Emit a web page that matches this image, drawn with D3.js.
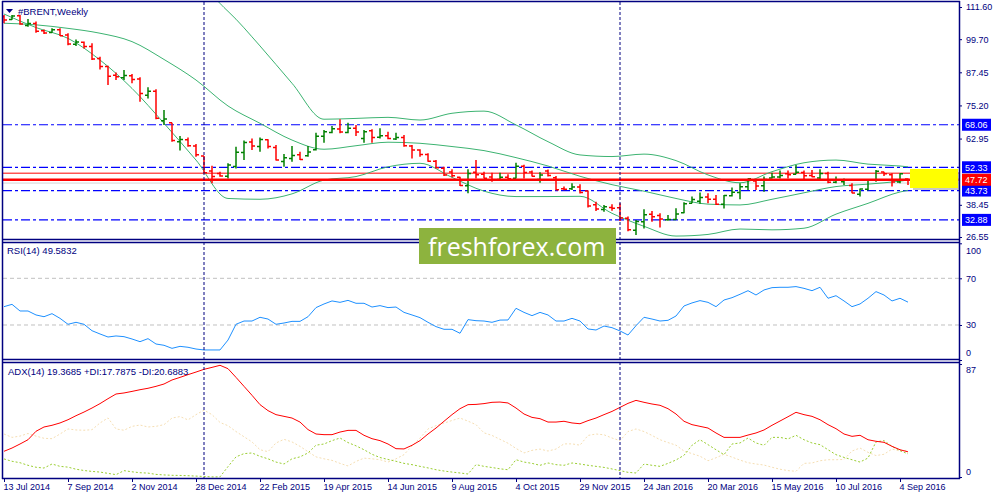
<!DOCTYPE html>
<html>
<head>
<meta charset="utf-8">
<script src="https://cdnjs.cloudflare.com/ajax/libs/d3/7.8.5/d3.min.js"></script>
<style>
body { margin: 0; background: #fff; }
svg { display: block; font-family: "Liberation Sans", Arial, sans-serif; }
</style>
</head>
<body>
<svg width="1000" height="500"></svg>
<script>

// weekly bars, 13 Jul 2014 .. 11 Sep 2016
var opens = [108.0,107.0,108.4,104.8,105.5,102.8,102.2,103.2,101.2,97.8,
  98.6,97.0,92.6,89.6,86.4,85.4,86.2,85.0,79.0,80.4,
  69.5,68.8,61.8,62.5,60.2,56.5,51.0,50.0,49.0,52.6,
  57.8,61.7,60.0,62.5,59.6,54.5,55.6,57.0,56.6,58.8,
  63.8,65.2,66.5,65.2,66.8,63.0,65.8,63.4,64.0,62.8,
  63.3,60.2,58.7,57.1,54.6,52.0,50.6,48.6,45.5,50.5,
  49.8,48.7,47.8,48.6,48.3,52.7,50.6,47.8,51.0,48.5,
  44.4,44.4,45.0,43.6,38.5,36.7,37.5,37.4,33.5,29.0,
  32.2,35.0,34.5,32.9,33.0,35.5,39.0,39.8,41.3,40.5,
  38.7,41.8,43.0,45.1,47.3,45.5,48.4,48.7,49.9,49.8,
  50.4,49.3,48.4,50.0,46.8,47.0,45.6,42.4,44.2,47.5,
  50.6,49.6,46.9,48.0];
var highs = [108.6,108.6,108.6,107.2,106.2,103.3,103.7,103.7,101.9,99.6,
  98.8,98.2,93.2,89.9,87.4,88.3,86.8,85.6,81.9,81.2,
  73.5,68.8,63.9,63.3,60.9,56.5,52.9,50.7,53.8,59.9,
  62.2,63.0,63.3,62.7,60.6,57.2,60.2,58.1,60.2,65.1,
  66.1,67.6,70.1,68.8,68.0,66.1,66.4,66.8,65.5,65.1,
  64.3,60.6,59.0,57.5,55.0,52.5,51.6,48.8,51.6,55.0,
  50.7,50.3,50.3,49.8,54.0,53.3,51.1,50.5,51.5,49.1,
  45.2,46.4,46.1,43.7,39.6,38.4,38.7,39.0,34.1,32.8,
  36.8,36.2,35.3,34.7,37.2,39.4,41.5,43.0,42.7,42.1,
  42.1,44.9,46.4,48.2,47.6,48.9,50.3,51.1,51.1,53.2,
  51.1,51.3,51.6,50.7,48.9,48.2,46.4,44.5,47.6,51.3,
  50.7,50.1,50.1,48.2];
var lows = [105.6,106.9,105.0,104.3,102.1,101.6,102.1,100.9,97.5,97.2,
  96.3,92.0,88.5,82.8,84.6,84.6,83.4,76.6,77.8,70.1,
  68.0,61.8,58.5,59.9,56.2,50.1,46.4,48.8,48.2,51.9,
  55.0,58.7,58.1,59.3,54.8,52.5,54.4,55.0,56.2,58.5,
  61.4,64.9,64.9,64.9,63.9,61.4,61.4,63.0,62.7,62.4,
  59.9,55.6,56.2,54.4,51.9,49.1,48.6,45.4,42.7,48.2,
  48.2,47.0,47.6,47.6,48.2,48.2,48.9,46.6,48.9,43.8,
  43.8,43.9,42.6,37.5,36.2,35.9,36.3,32.5,28.7,27.3,
  29.7,32.2,30.1,32.6,32.8,35.3,39.0,38.8,39.0,38.4,
  37.1,41.5,40.5,43.9,43.9,43.3,48.2,48.2,48.2,49.8,
  47.4,48.6,47.4,46.4,46.4,45.8,42.7,41.5,43.7,47.0,
  49.1,45.2,46.4,45.8];
var closes = [106.8,108.3,105.3,105.5,102.6,102.0,103.2,101.0,97.9,98.7,
  97.0,92.4,89.6,86.0,85.8,86.3,84.8,79.6,80.4,70.5,
  70.2,62.2,62.6,60.3,57.0,50.3,48.9,49.1,53.2,57.9,
  61.5,60.2,62.6,60.0,55.0,55.9,56.7,55.2,58.0,63.8,
  65.5,66.6,65.4,66.8,65.4,65.5,63.3,64.0,63.0,63.3,
  60.3,58.7,57.1,54.6,52.2,49.5,49.2,45.6,50.0,49.6,
  48.3,47.6,48.6,48.1,52.7,50.4,49.0,49.5,49.3,44.0,
  44.2,45.0,43.0,38.0,36.9,37.7,37.2,33.6,29.2,32.3,
  34.8,34.0,33.2,33.0,35.1,38.8,40.4,41.2,40.5,38.7,
  41.9,43.1,45.1,48.1,45.4,47.8,48.7,49.3,49.6,50.5,
  49.2,48.8,50.0,46.8,47.6,47.7,42.8,44.3,47.5,50.9,
  49.9,46.9,49.9,47.72];

// band lines every 4th bar
var bandIdx = [0,4,8,12,16,20,24,28,32,36,40,44,48,52,56,60,64,68,72,76,80,84,88,92,96,100,104,108,112,113];
var bandUpper = [114,115,116,117,118,119,119,110,97.2,83.4,70.1,70.4,70.8,69.8,72.3,73.1,68.0,61.8,56.9,56.3,57.2,54.8,49.5,46.6,50.7,54.0,55.0,53.5,52.8,52.5];
var bandMid = [105.6,105.0,103.7,101.9,98.8,92.2,84.6,75.0,68.6,62.4,59.0,60.3,61.6,61.2,60.0,58.5,55.9,52.8,49.0,45.9,43.5,40.8,38.7,38.4,40.5,42.9,45.2,46.1,47.2,47.6];
var bandLower = [109.0,104.0,100.0,92.0,81.5,68.6,55.0,40.8,40.5,42.5,47.6,48.9,52.5,53.8,48.6,43.5,41.5,41.5,41.6,35.3,30.5,26.9,27.5,29.5,29.2,29.8,35.0,39.0,43.2,43.8];

var rsiValues = [45.7,47.7,42.0,42.0,38.6,37.1,39.7,35.7,30.6,32.3,
  30.6,25.1,22.3,19.7,20.6,20.0,18.0,15.7,18.3,13.7,
  12.6,10.0,11.7,10.9,9.4,8.6,8.6,8.6,17.1,30.6,
  33.4,33.4,36.6,35.1,30.6,31.7,33.1,33.1,37.1,44.9,
  48.0,50.6,49.4,51.1,48.6,48.6,45.4,46.6,44.9,45.4,
  40.8,38.6,36.3,32.3,28.6,26.3,26.3,22.9,34.6,33.7,
  33.4,32.3,34.2,34.3,44.3,40.8,38.0,40.8,38.6,33.4,
  33.4,35.7,33.4,26.6,25.7,29.1,27.7,24.9,21.4,29.4,
  36.6,35.1,33.4,34.0,37.7,46.3,48.9,50.9,49.4,45.7,
  51.4,53.4,56.3,59.4,55.7,60.0,62.0,62.3,62.3,62.9,
  61.4,59.4,62.3,52.9,55.1,50.6,45.7,48.0,52.9,58.6,
  55.7,50.6,52.9,49.58];

var adxValues = [19.8,22.3,25.4,28.7,35.2,38.5,39.8,41.6,44.1,47.2,
  50.0,53.1,56.5,60.3,63.9,64.7,65.9,67.2,68.3,69.8,
  71.6,74.7,76.7,78.8,80.8,82.9,84.4,86.0,83.4,76.7,
  69.8,62.9,55.7,51.1,48.0,46.7,45.4,42.3,36.5,33.1,
  32.6,32.6,34.6,35.9,35.9,32.1,29.5,28.0,25.4,21.8,
  21.6,24.4,28.0,33.1,37.7,42.9,48.0,52.6,55.7,55.9,
  56.5,57.5,57.7,57.0,53.1,48.5,45.9,44.9,42.3,42.3,
  42.9,41.6,41.0,43.4,45.4,48.0,50.5,53.6,56.7,59.0,
  57.5,56.2,55.2,52.6,48.5,42.9,40.3,39.0,37.7,33.9,
  30.5,30.5,30.5,32.3,33.9,36.2,39.8,43.1,46.4,49.8,
  48.0,46.7,44.1,40.3,37.2,33.1,31.3,32.1,28.7,27.5,
  26.7,23.6,21.0,19.37];
var plusDI = [13.9,12.1,11.0,9.0,7.5,6.9,10.0,8.2,7.6,6.0,
  5.0,4.3,3.8,2.8,1.8,4.9,4.0,3.3,3.0,2.0,
  1.6,1.3,1.2,1.0,0.7,0.4,0.1,0.1,8.0,15.5,
  18.0,18.5,15.9,14.0,11.5,10.0,14.0,15.5,18.5,24.5,
  25.4,28.0,30.0,26.5,24.0,21.0,17.5,15.0,13.5,12.1,
  10.5,9.5,8.2,7.0,5.6,4.6,3.8,3.1,2.3,9.5,
  8.2,7.3,6.3,5.6,13.3,11.5,10.5,9.0,10.8,9.5,
  9.0,10.8,10.0,9.0,8.2,7.4,6.2,4.9,3.6,3.1,
  10.0,9.0,8.2,10.5,13.1,16.7,24.4,28.7,24.9,21.0,
  17.2,25.4,26.2,30.0,26.2,24.4,30.5,30.5,29.3,32.1,
  28.7,26.2,24.9,21.0,17.2,15.1,13.3,11.5,14.6,27.0,
  28.0,23.6,20.3,17.79];
var minusDI = [33.1,30.5,31.5,33.5,31.5,29.8,29.5,33.1,37.0,36.2,
  36.0,36.4,41.6,45.5,37.0,36.0,39.0,40.0,38.5,39.0,
  40.3,45.4,46.5,44.0,48.0,51.5,48.0,42.0,39.5,35.0,
  31.0,27.0,21.0,19.5,26.2,29.0,27.0,23.6,19.5,15.5,
  14.0,12.8,10.5,8.5,12.0,14.5,14.0,13.3,11.5,14.0,
  17.2,24.0,30.0,37.0,39.5,41.5,43.5,45.4,43.0,40.3,
  34.0,32.0,29.0,26.0,22.0,18.5,20.5,21.5,20.0,21.5,
  25.5,25.5,24.5,32.0,33.1,32.5,30.0,28.0,35.0,37.0,
  35.0,32.0,28.7,26.5,24.5,20.0,18.0,16.0,12.5,14.8,
  17.5,15.3,13.0,11.0,10.0,9.2,7.5,6.0,4.9,4.4,
  10.5,10.8,12.5,13.3,13.3,13.5,20.0,22.3,19.0,16.5,
  17.5,21.5,20.0,20.69];

var dateTicks = [0,8,16,24,32,40,48,56,64,72,80,88,96,104,112];
var dateLabels = ["13 Jul 2014","7 Sep 2014","2 Nov 2014","28 Dec 2014","22 Feb 2015","19 Apr 2015","14 Jun 2015",
  "9 Aug 2015","4 Oct 2015","29 Nov 2015","24 Jan 2016","20 Mar 2016","15 May 2016","10 Jul 2016","4 Sep 2016"];
var priceTicks = [111.60, 99.70, 87.45, 75.20, 62.95, 38.45, 26.55];
var levelPrices = [68.06, 52.33, 43.73, 32.88];
var bidPrice = 47.72;
var redLinePrice = 50.15;
var askPrice = 46.5;
var yearBreaks = [25, 77];

var navy = "#000080";
var svg = d3.select("svg");

xScale = d3.scaleLinear().domain([0, 112]).range([4, 900]);
priceScale = d3.scaleLinear().domain([26.55, 111.60]).range([237, 7]);
rsiScale = d3.scaleLinear().domain([0, 100]).range([360, 243.3]);
adxScale = d3.scaleLinear().domain([0, 87]).range([477, 364]);

var defs = svg.append("defs");
function clip(id, y0, y1) {
    defs.append("clipPath").attr("id", id).append("rect")
        .attr("x", 3).attr("y", y0).attr("width", 956).attr("height", y1 - y0);
}
clip("clipPrice", 2, 239.5);
clip("clipRsi", 243, 359.5);
clip("clipAdx", 362.5, 478);

// ---------- price panel
var pg = svg.append("g").attr("clip-path", "url(#clipPrice)");

pg.selectAll(".level").data(levelPrices).enter().append("line")
    .attr("x1", 3).attr("x2", 959)
    .attr("y1", d => priceScale(d)).attr("y2", d => priceScale(d))
    .attr("stroke", "#0000ff").attr("stroke-width", 1.2).attr("stroke-dasharray", "9,3,3,3");

pg.append("line").attr("x1", 3).attr("x2", 959)
    .attr("y1", priceScale(redLinePrice)).attr("y2", priceScale(redLinePrice))
    .attr("stroke", "#ff0000").attr("stroke-width", 1);
pg.append("line").attr("x1", 3).attr("x2", 959)
    .attr("y1", priceScale(askPrice)).attr("y2", priceScale(askPrice))
    .attr("stroke", "#d4d4d4").attr("stroke-width", 1);

var bandLine = function (vals) {
    return d3.line().curve(d3.curveMonotoneX)
        .x((d, i) => xScale(bandIdx[i])).y(d => priceScale(d))(vals);
};
[bandUpper, bandMid, bandLower].forEach(function (vals) {
    pg.append("path").attr("d", bandLine(vals)).attr("fill", "none")
        .attr("stroke", "#3cb371").attr("stroke-width", 1);
});

pg.selectAll(".bar").data(closes).enter().append("path")
    .attr("d", function (c, i) {
        var x = xScale(i);
        return "M" + x + "," + priceScale(highs[i]) + "V" + priceScale(lows[i]) +
            "M" + (x - 3) + "," + priceScale(opens[i]) + "H" + x +
            "M" + x + "," + priceScale(c) + "H" + (x + 3);
    })
    .attr("fill", "none").attr("stroke-width", 1.5)
    .attr("stroke", (c, i) => c >= opens[i] ? "#008000" : "#ff0000");

// yellow box at the last price
svg.append("rect").attr("x", 913).attr("y", 172).attr("width", 47).attr("height", 18).attr("fill", "#b0b0b0").attr("opacity", 0.7);
svg.append("rect").attr("x", 910).attr("y", 169).attr("width", 48).attr("height", 19).attr("fill", "#ffff00");

pg.append("line").attr("x1", 3).attr("x2", 959)
    .attr("y1", priceScale(bidPrice)).attr("y2", priceScale(bidPrice))
    .attr("stroke", "#ff0000").attr("stroke-width", 2.5);

// ---------- RSI panel
var rg = svg.append("g").attr("clip-path", "url(#clipRsi)");
[70, 30].forEach(function (v) {
    rg.append("line").attr("x1", 3).attr("x2", 959).attr("y1", rsiScale(v)).attr("y2", rsiScale(v))
        .attr("stroke", "#c0c0c0").attr("stroke-dasharray", "4,3");
});
rg.append("path")
    .attr("d", d3.line().x((d, i) => xScale(i)).y(d => rsiScale(d))(rsiValues))
    .attr("fill", "none").attr("stroke", "#1e90ff").attr("stroke-width", 1);

// ---------- ADX panel
var ag = svg.append("g").attr("clip-path", "url(#clipAdx)");
var adxLine = d3.line().x((d, i) => xScale(i)).y(d => adxScale(d));
ag.append("path").attr("d", adxLine(minusDI)).attr("fill", "none")
    .attr("stroke", "#f5deb3").attr("stroke-width", 1).attr("stroke-dasharray", "2,2");
ag.append("path").attr("d", adxLine(plusDI)).attr("fill", "none")
    .attr("stroke", "#9acd32").attr("stroke-width", 1).attr("stroke-dasharray", "2,2");
ag.append("path").attr("d", adxLine(adxValues)).attr("fill", "none")
    .attr("stroke", "#ff0000").attr("stroke-width", 1);

// year separators
svg.selectAll(".sep").data(yearBreaks).enter().append("line")
    .attr("x1", d => xScale(d)).attr("x2", d => xScale(d))
    .attr("y1", 2).attr("y2", 478)
    .attr("stroke", navy).attr("stroke-width", 1).attr("stroke-dasharray", "3,2");

// ---------- frames
var frame = svg.append("g").attr("stroke", navy).attr("stroke-width", 1.5).attr("fill", "none");
frame.append("line").attr("x1", 2.5).attr("x2", 2.5).attr("y1", 1).attr("y2", 479);
frame.append("line").attr("x1", 959.5).attr("x2", 959.5).attr("y1", 1).attr("y2", 479);
[1.5, 239.5, 242.5, 359.5, 362.5, 478.5].forEach(function (y) {
    frame.append("line").attr("x1", 2).attr("x2", 960).attr("y1", y).attr("y2", y);
});

// ---------- axes
function styleAxis(g) {
    g.select(".domain").remove();
    g.selectAll("line").attr("stroke", navy);
    g.selectAll("text").attr("fill", navy).style("font-size", "9px")
        .style("font-family", "'Liberation Sans', Arial, sans-serif");
}

priceAxis = d3.axisRight(priceScale).tickValues(priceTicks).tickSize(3).tickPadding(4).tickFormat(d3.format(".2f"));
svg.append("g").attr("transform", "translate(959,0)").call(priceAxis).call(styleAxis);

rsiAxis = d3.axisRight(rsiScale).tickValues([100, 70, 30, 0]).tickSize(3).tickPadding(4);
svg.append("g").attr("transform", "translate(959,0)").call(rsiAxis).call(styleAxis)
    .selectAll("text").attr("y", d => d == 100 ? 7 : (d == 0 ? -7 : 0));

adxAxis = d3.axisRight(adxScale).tickValues([87, 0]).tickSize(3).tickPadding(4);
svg.append("g").attr("transform", "translate(959,0)").call(adxAxis).call(styleAxis)
    .selectAll("text").attr("y", d => d == 87 ? 6 : -5);

dateAxis = d3.axisBottom(xScale).tickValues(dateTicks).tickSize(4)
    .tickFormat((d, i) => dateLabels[i]);
svg.append("g").attr("transform", "translate(0,478)").call(dateAxis).call(styleAxis)
    .selectAll("text").attr("text-anchor", "start").attr("x", -1).attr("y", 6);

// highlighted price labels
var tags = levelPrices.map(p => ({ p: p, c: "#0000ff" })).concat([{ p: bidPrice, c: "#ff0000" }]);
var tagG = svg.selectAll(".tag").data(tags).enter().append("g")
    .attr("transform", d => "translate(962," + priceScale(d.p) + ")");
tagG.append("rect").attr("x", 0).attr("y", -6).attr("width", 29).attr("height", 12).attr("fill", d => d.c);
tagG.append("text").attr("x", 3).attr("y", 3.5).attr("fill", "#fff")
    .style("font-size", "9px").text(d => d3.format(".2f")(d.p));

// ---------- titles
svg.append("path").attr("d", "M6,9H13L9.5,13Z").attr("fill", navy);
svg.append("text").attr("x", 18).attr("y", 15).attr("fill", navy).style("font-size", "9.5px").text("#BRENT,Weekly");
svg.append("text").attr("x", 7).attr("y", 254).attr("fill", navy).style("font-size", "9.5px")
    .text("RSI(14) 49.5832");
svg.append("text").attr("x", 8).attr("y", 375).attr("fill", navy).style("font-size", "9.5px")
    .text("ADX(14) 19.3685 +DI:17.7875 -DI:20.6883");

// watermark
svg.append("rect").attr("x", 419).attr("y", 228).attr("width", 197).attr("height", 36).attr("fill", "#8db33e");
svg.append("text").attr("x", 428).attr("y", 256).attr("fill", "#fff")
    .style("font-family", "'Open Sans', sans-serif").style("font-size", "25px").text("freshforex.com");

</script>
</body>
</html>
